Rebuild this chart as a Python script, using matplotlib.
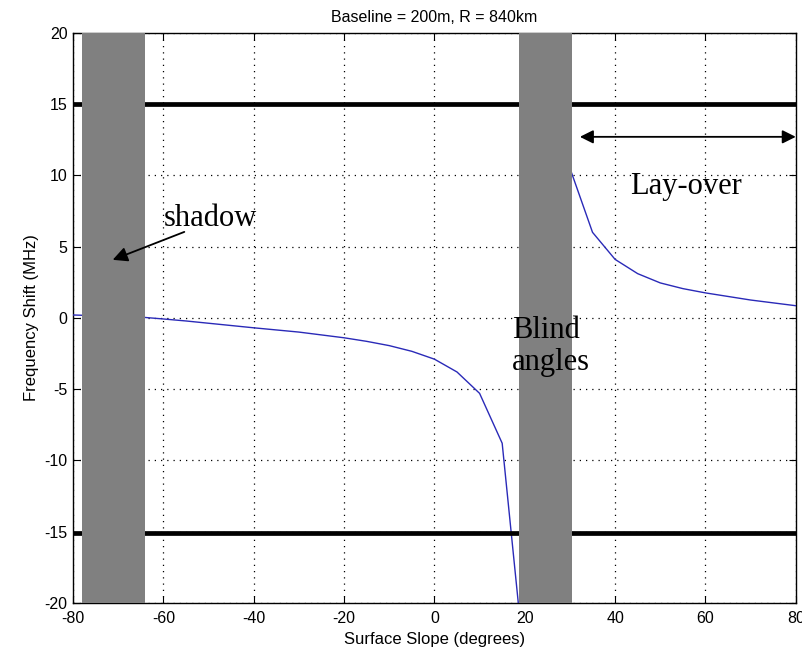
import matplotlib.pyplot as plt
import numpy as np

# slope samples (degrees) and frequency shift (MHz)
slope_left = [-80, -75, -70, -65, -60, -55, -50, -45, -40, -35, -30, -25,
              -20, -15, -10, -5, 0, 5, 10, 15, 20]
shift_left = [0.2, 0.15, 0.1, 0.05, -0.08, -0.22, -0.38, -0.54, -0.7, -0.85,
              -1.0, -1.2, -1.4, -1.65, -1.95, -2.35, -2.9, -3.8, -5.3, -8.8, -24.5]
slope_right = [30, 35, 40, 45, 50, 55, 60, 65, 70, 75, 80]
shift_right = [10.5, 6.0, 4.1, 3.1, 2.45, 2.05, 1.75, 1.5, 1.25, 1.05, 0.85]

# shaded angle ranges and limit lines
shadow_range = [-78, -64]
blind_range = [18.7, 30.4]
limits = [15, -15.1]

plt.rcParams['font.family'] = ['Liberation Sans', 'DejaVu Sans']
plt.rcParams['axes.unicode_minus'] = False

fig = plt.figure(figsize=(8.03, 6.56), dpi=100)
ax = fig.add_axes([0.091, 0.081, 0.9, 0.869])

# curve
ax.plot(slope_left, shift_left, color='#2a2ab8', lw=1.0, zorder=3)
ax.plot(slope_right, shift_right, color='#2a2ab8', lw=1.0, zorder=3)

# limit lines
for lv in limits:
    ax.axhline(lv, color='black', lw=3.4, zorder=4)

# gray bars
ax.axvspan(shadow_range[0], shadow_range[1], color='#808080', zorder=5, lw=0)
ax.axvspan(blind_range[0], blind_range[1], color='#808080', zorder=5, lw=0)

ax.set_xlim(-80, 80)
ax.set_ylim(-20, 20)
ax.set_xticks(np.arange(-80, 81, 20))
ax.set_yticks(np.arange(-20, 21, 5))
ax.grid(True, linestyle=(0, (1, 4)), color='black', lw=0.9)
ax.tick_params(direction='in', top=True, right=True, labelsize=11.5, length=5)
ax.tick_params(axis='x', pad=6)
ax.tick_params(axis='y', pad=4)
for s in ax.spines.values():
    s.set_linewidth(1.0)

ax.set_title('Baseline = 200m, R = 840km', fontsize=11.5, pad=8)
ax.set_xlabel('Surface Slope (degrees)', fontsize=12, labelpad=4)
ax.set_ylabel('Frequency Shift (MHz)', fontsize=12, labelpad=4)

# annotations
serif = ['Liberation Serif', 'DejaVu Serif']
ax.text(-60, 7.0, 'shadow', family=serif, fontsize=22, va='center', ha='left', zorder=6)
ax.annotate('', xy=(-71.8, 4.0), xytext=(-54.8, 6.1),
            arrowprops=dict(arrowstyle='-|>', color='black', lw=1.3,
                            mutation_scale=22), zorder=6)
ax.text(17.1, -2.0, 'Blind\nangles', family=serif, fontsize=22, va='center',
        ha='left', linespacing=1.15, zorder=6)
ax.text(43.3, 9.2, 'Lay-over', family=serif, fontsize=22, va='center', ha='left', zorder=6)
ax.annotate('', xy=(32.2, 12.7), xytext=(80, 12.7),
            arrowprops=dict(arrowstyle='<|-|>', color='black', lw=1.3,
                            mutation_scale=20, shrinkA=0, shrinkB=0), zorder=6)

plt.savefig('out.png', dpi=100)
